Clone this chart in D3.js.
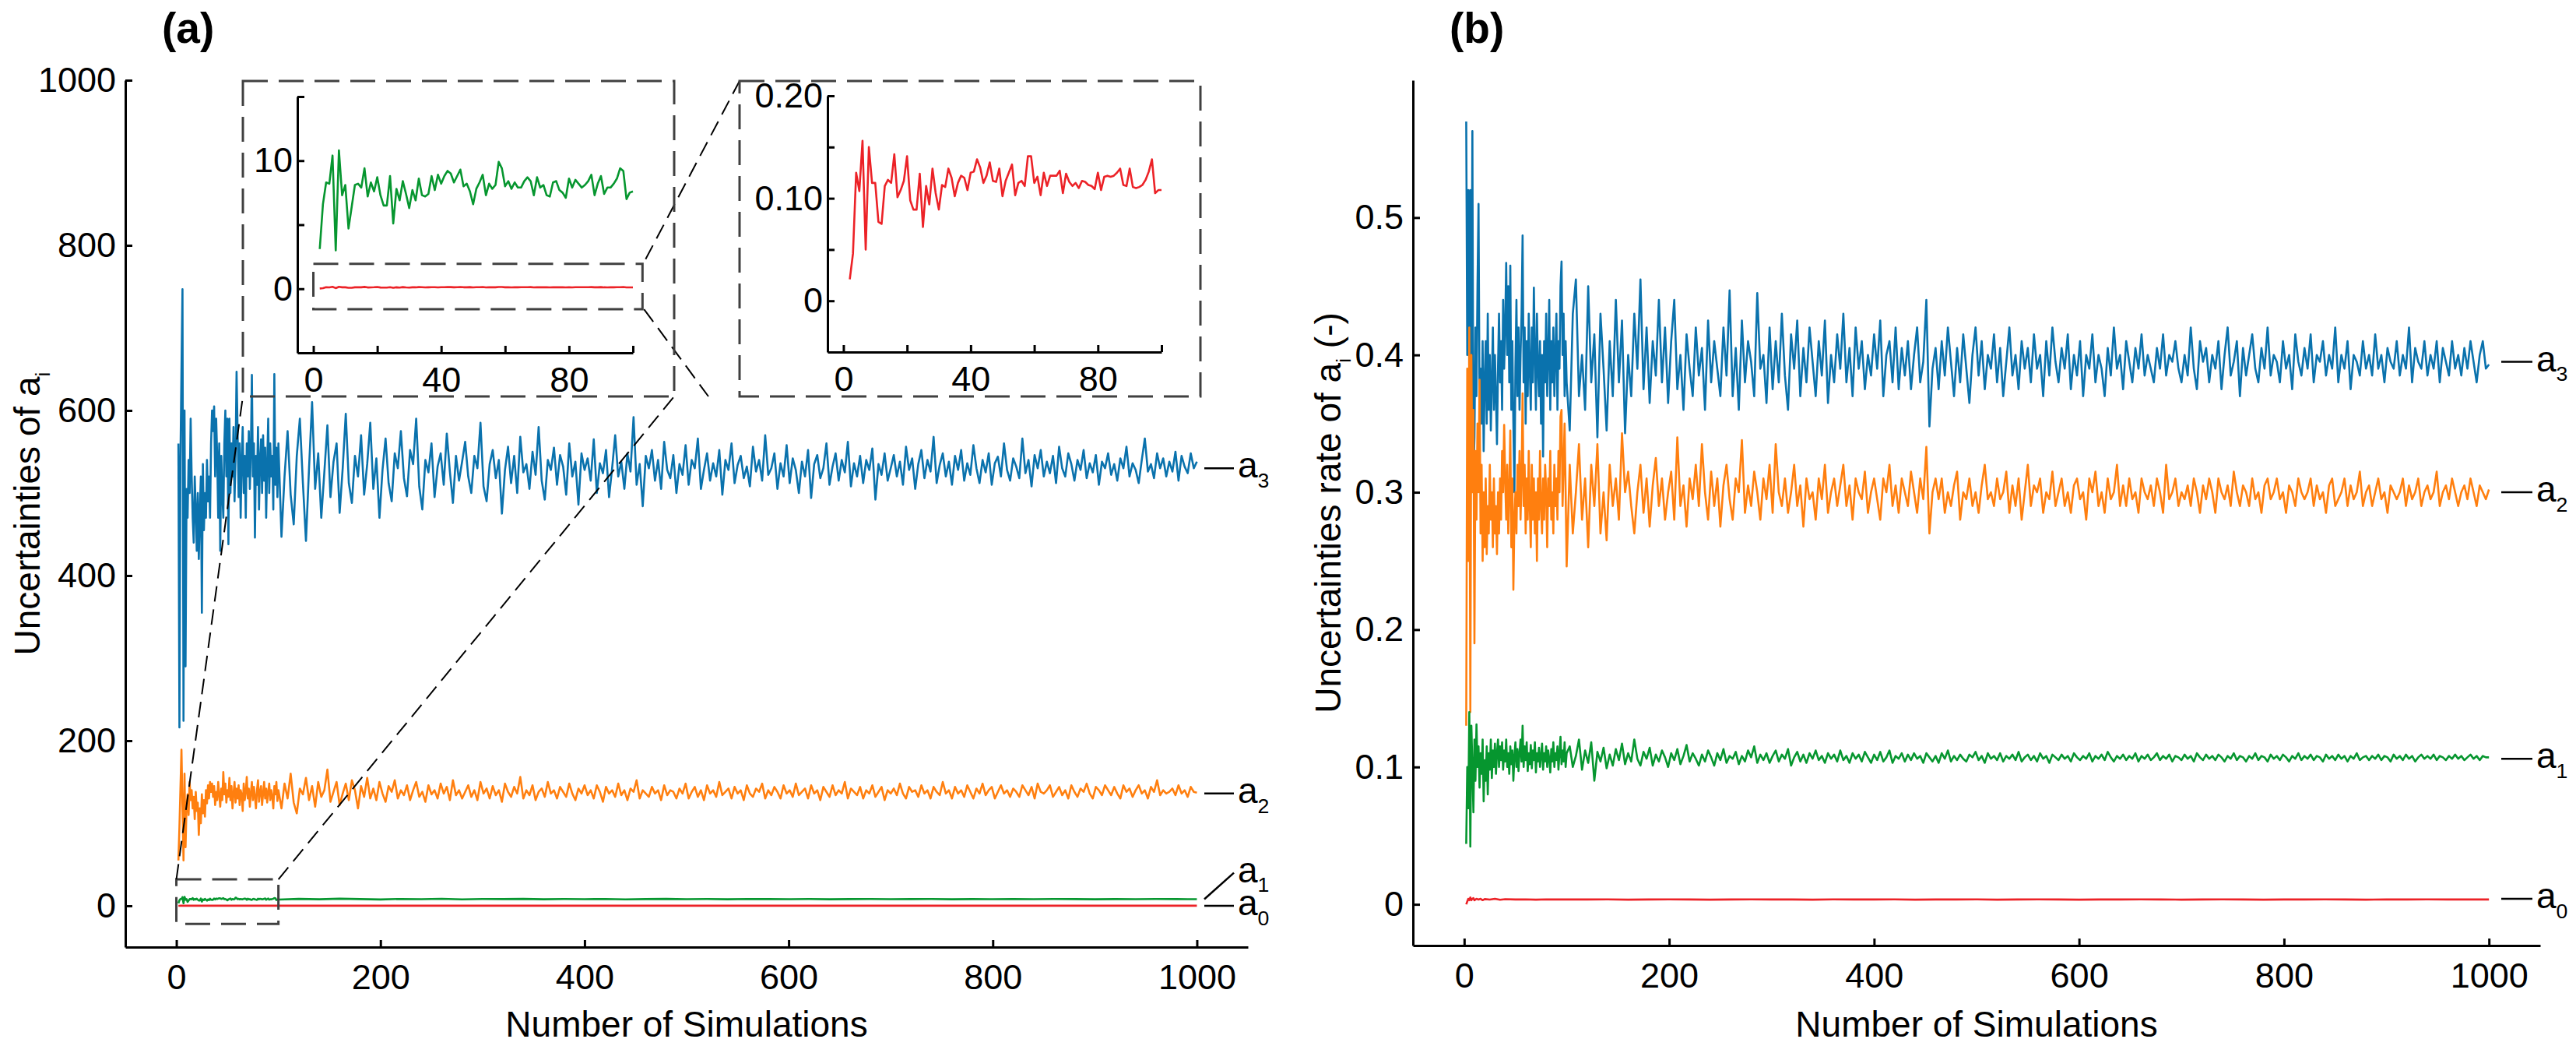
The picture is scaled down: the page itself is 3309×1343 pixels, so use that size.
<!DOCTYPE html>
<html>
<head>
<meta charset="utf-8">
<script src="https://cdn.jsdelivr.net/npm/d3@7"></script>
<style>
  html, body { margin: 0; padding: 0; background: #fff; }
  text { font-family: "Liberation Sans", Arial, Helvetica, sans-serif; }
</style>
</head>
<body>
<svg id="fig" width="3309" height="1343"></svg>
<script>
// ---- simulation indices ----
const earlySims = d3.range(2, 101);          // every run, 2..100
const lateSims = d3.range(103, 1001, 3);     // 103..1000
const coarseSims = d3.range(120, 1001, 20);  // 120..1000
const rateA0Sims = [2,3,4,5,6,7,8,9,10,12,14,16,18,20,25,30,35,40,50,60,70,80,90,100];

const xTicks = [0, 200, 400, 600, 800, 1000];
const uncTicks = [0, 200, 400, 600, 800, 1000];
const rateTicks = [0, 0.1, 0.2, 0.3, 0.4, 0.5];
const zoomXTicks = [0, 20, 40, 60, 80, 100];
const zoomA1Ticks = [0, 5, 10, 15];
const zoomA0Ticks = [0, 0.05, 0.1, 0.15, 0.2];

// ---- (a) uncertainties of a_i ----
const uncA3Early = [
  560,216,540,648,747,224,600,290,505,470,
  540,500,590,520,470,440,520,480,430,500,
  420,480,520,355,535,455,500,470,540,490,
  520,470,560,600,575,605,520,590,545,470,
  560,430,545,500,470,560,600,520,590,438,
  590,500,560,520,580,490,545,647,575,495,
  560,470,540,580,500,545,470,560,520,575,
  505,550,643,520,560,446,545,510,580,480,
  540,565,500,570,515,555,470,535,590,500,
  560,520,545,480,644,510,555,495,560];
const uncA3Late = [
  447,520,575,498,462,545,590,512,442,530,
  610,505,548,470,525,582,495,538,560,476,
  530,596,512,488,545,520,570,498,535,585,
  505,542,470,528,566,512,490,548,530,575,
  518,496,552,535,590,508,480,540,525,560,
  495,532,548,510,572,526,488,545,515,538,
  562,520,500,545,530,585,508,490,535,552,
  518,540,475,528,556,512,545,500,568,525,
  535,505,550,522,580,515,492,540,528,555,
  510,546,532,498,560,520,538,486,548,528,
  542,515,565,500,536,524,552,495,530,570,
  520,538,505,548,526,592,510,535,484,545,
  530,552,515,540,505,562,528,518,546,500,
  535,522,558,510,540,530,566,505,528,548,
  515,536,520,552,498,540,528,560,512,534,
  545,518,532,508,556,526,540,515,570,522,
  530,548,505,536,520,558,512,542,528,500,
  538,520,552,494,535,546,518,530,560,510,
  532,548,515,540,525,562,508,536,520,545,
  512,540,528,554,492,535,522,548,515,530,
  546,520,538,510,556,528,542,505,535,552,
  518,540,526,568,512,534,548,520,538,510,
  545,528,552,515,536,522,558,530,512,540,
  525,548,510,536,544,520,560,528,515,542,
  532,518,566,524,540,508,546,530,552,520,
  538,524,545,512,556,530,520,548,535,515,
  540,528,552,518,536,525,546,510,538,530,
  548,522,535,515,542,530,556,520,536,528,
  512,540,566,526,535,518,548,530,542,520,
  538,526,550,515,545,532,524,548,530,538];

const uncA2Early = [
  55,95,142,189,120,55,160,71,121,135,
  110,150,128,140,118,132,105,138,115,125,
  86,118,100,135,112,128,108,140,124,146,
  130,150,138,148,132,145,122,138,128,150,
  135,120,142,128,162,135,148,125,140,132,
  155,128,145,118,136,150,125,142,130,146,
  122,140,135,115,148,128,138,156,130,142,
  120,137,150,128,144,132,118,140,152,126,
  138,145,122,136,150,130,142,125,138,148,
  128,140,132,118,145,135,150,127,140];
const uncA2Late = [
  118,148,130,160,125,112,142,135,155,128,
  145,120,150,132,140,165,126,138,150,122,
  136,148,128,152,140,118,145,132,155,130,
  142,128,150,136,126,145,138,152,130,140,
  134,146,128,140,150,132,138,126,146,135,
  140,130,148,136,144,128,152,134,140,130,
  138,146,132,140,128,150,136,142,130,145,
  134,140,126,148,138,132,144,136,156,130,
  140,134,146,128,138,142,132,150,136,140,
  130,144,138,132,148,136,128,142,136,146,
  134,140,130,146,138,126,144,136,140,132,
  148,134,140,128,142,138,152,130,140,136,
  132,144,136,140,128,146,134,140,138,130,
  142,136,148,130,138,144,132,140,128,146,
  136,140,132,150,134,138,142,130,144,136,
  140,128,146,136,132,142,138,148,130,140,
  134,144,138,130,146,136,140,132,148,134,
  138,142,130,146,136,140,128,144,138,132,
  146,134,140,136,150,130,142,138,134,144,
  130,140,136,146,132,138,144,128,140,136,
  142,134,148,136,130,144,138,140,132,146,
  136,140,130,144,138,134,150,136,140,130,
  144,136,140,132,146,138,130,142,136,148,
  134,140,144,130,138,146,136,140,132,142,
  138,132,146,140,134,144,130,148,138,136,
  140,146,132,138,144,134,140,130,146,138,
  132,142,138,148,136,130,144,140,134,146,
  140,134,144,136,130,146,138,142,132,140,
  146,136,140,130,144,138,152,134,140,136,
  138,142,134,146,136,140,132,144,138,137];

const uncA1Early = [
  3.1,6.6,8.3,8.2,10.4,3.0,10.8,7.3,8.1,4.7,
  6.4,8.1,8.2,7.9,9.4,7.2,8.3,7.6,8.7,7.3,
  6.5,6.5,8.8,5.1,7.8,6.9,8.4,7.4,6.3,7.7,
  6.9,8.6,7.3,7.2,7.4,8.8,7.7,8.9,8.2,8.8,
  9.2,9.0,8.3,8.8,9.3,8.0,8.2,7.6,6.6,7.8,
  8.3,8.9,7.3,8.2,7.8,8.1,9.9,9.4,8.0,8.4,
  7.8,8.3,7.9,7.9,8.4,8.7,8.4,7.3,8.7,7.9,
  8.1,7.3,7.2,8.3,8.4,7.7,7.5,7.1,8.6,7.9,
  8.5,8.2,7.9,8.1,8.4,8.9,7.3,8.2,8.8,7.4,
  7.9,7.9,8.2,8.6,9.4,9.2,7.0,7.5,7.6];
const uncA1Coarse = [
  8.4,7.9,8.6,8.1,7.7,8.3,8.0,8.5,7.8,8.2,
  8.1,8.4,7.9,8.2,8.0,8.3,7.8,8.1,8.4,8.0,
  8.2,7.9,8.3,8.1,8.0,8.2,7.9,8.1,8.3,8.0,
  8.1,8.2,7.9,8.1,8.0,8.3,8.0,8.2,8.1,7.9,
  8.1,8.0,8.2,8.1,8.0];

const uncA0Early = [
  .021,.046,.125,.107,.156,.050,.150,.115,.115,.077,
  .075,.112,.118,.115,.143,.101,.108,.117,.141,.098,
  .089,.089,.124,.072,.112,.094,.129,.105,.089,.113,
  .111,.129,.120,.102,.115,.122,.120,.108,.125,.126,
  .138,.130,.115,.122,.135,.117,.116,.129,.102,.117,
  .125,.133,.103,.115,.117,.112,.141,.141,.115,.121,
  .103,.125,.112,.122,.122,.122,.127,.105,.124,.116,
  .112,.115,.110,.117,.116,.113,.112,.109,.125,.108,
  .121,.122,.121,.122,.125,.129,.113,.112,.129,.111,
  .110,.111,.113,.118,.126,.138,.105,.108,.108];
const uncA0Coarse = [
  .118,.121,.116,.119,.117,.120,.115,.118,.121,.117,
  .119,.116,.120,.118,.117,.121,.119,.116,.118,.120,
  .117,.119,.118,.121,.116,.118,.120,.117,.119,.118,
  .116,.120,.118,.117,.119,.121,.118,.116,.119,.117,
  .120,.118,.117,.119,.118];

// ---- (b) uncertainty rate of a_i ----
const rateA3Early = [
  .57,.40,.52,.38,.52,.36,.563,.31,.34,.42,
  .37,.45,.51,.36,.39,.35,.41,.33,.38,.41,
  .35,.43,.36,.40,.345,.38,.42,.36,.40,.37,
  .335,.39,.43,.38,.41,.36,.44,.39,.42,.467,
  .40,.45,.38,.465,.36,.41,.35,.30,.39,.44,
  .37,.42,.36,.40,.43,.487,.38,.42,.35,.41,
  .37,.43,.39,.36,.42,.38,.449,.40,.36,.43,
  .39,.37,.41,.35,.40,.326,.41,.38,.43,.37,
  .40,.44,.36,.41,.38,.42,.37,.40,.43,.36,
  .41,.39,.45,.468,.40,.43,.37,.41,.38];
const rateA3Late = [
  .345,.43,.455,.37,.40,.36,.45,.38,.415,.34,
  .43,.39,.345,.41,.37,.44,.38,.425,.343,.40,
  .37,.43,.39,.455,.375,.42,.365,.41,.385,.44,
  .38,.42,.365,.41,.44,.375,.40,.36,.415,.39,
  .37,.42,.385,.405,.36,.425,.38,.41,.39,.37,
  .42,.385,.447,.37,.405,.36,.425,.38,.41,.395,
  .37,.445,.39,.40,.365,.42,.375,.41,.38,.43,
  .385,.36,.415,.39,.425,.37,.405,.38,.42,.395,
  .37,.41,.385,.425,.365,.40,.38,.415,.39,.43,
  .38,.405,.37,.42,.39,.41,.375,.40,.385,.415,
  .39,.425,.37,.40,.41,.38,.42,.375,.405,.385,
  .41,.375,.40,.42,.38,.395,.44,.348,.39,.405,
  .375,.41,.385,.42,.395,.37,.405,.38,.415,.39,
  .365,.40,.42,.385,.41,.375,.40,.39,.415,.38,
  .405,.37,.395,.42,.385,.40,.375,.41,.39,.405,
  .38,.415,.39,.40,.37,.41,.385,.42,.395,.38,
  .405,.39,.415,.375,.40,.385,.41,.37,.40,.39,
  .415,.38,.40,.39,.37,.405,.385,.42,.39,.40,
  .375,.41,.395,.38,.405,.39,.415,.385,.40,.39,
  .38,.405,.39,.415,.385,.40,.395,.41,.39,.38,
  .40,.385,.42,.39,.375,.41,.395,.405,.38,.40,
  .39,.41,.375,.40,.42,.385,.395,.41,.37,.405,
  .385,.40,.415,.39,.38,.405,.39,.42,.385,.40,
  .395,.38,.41,.39,.40,.375,.415,.395,.385,.405,
  .39,.415,.38,.40,.395,.41,.385,.40,.39,.42,
  .38,.40,.39,.41,.375,.40,.395,.385,.41,.39,
  .40,.385,.415,.39,.40,.38,.405,.395,.39,.41,
  .385,.40,.39,.42,.38,.405,.395,.39,.41,.385,
  .40,.39,.41,.38,.405,.395,.385,.41,.39,.40,
  .385,.405,.39,.41,.395,.38,.40,.41,.39,.393];

const rateA2Early = [
  .13,.39,.25,.42,.14,.40,.30,.36,.19,.33,
  .28,.35,.30,.382,.27,.32,.25,.30,.26,.31,
  .255,.29,.27,.32,.28,.30,.26,.31,.27,.29,
  .255,.30,.27,.31,.28,.33,.30,.349,.31,.28,
  .32,.27,.30,.345,.26,.31,.229,.28,.30,.27,
  .32,.29,.33,.28,.31,.372,.29,.32,.27,.31,
  .28,.33,.29,.26,.32,.28,.31,.27,.30,.25,
  .31,.28,.33,.29,.27,.31,.28,.32,.30,.26,
  .31,.29,.33,.28,.30,.27,.32,.29,.31,.28,
  .33,.30,.355,.36,.29,.32,.35,.30,.246];
const rateA2Late = [
  .32,.27,.30,.335,.28,.31,.26,.32,.29,.335,
  .27,.30,.265,.32,.29,.31,.28,.343,.30,.315,
  .29,.27,.30,.32,.285,.31,.275,.305,.325,.29,
  .31,.28,.30,.315,.28,.34,.29,.305,.275,.31,
  .295,.32,.29,.335,.30,.28,.315,.29,.31,.275,
  .305,.32,.295,.28,.31,.30,.338,.285,.305,.29,
  .315,.30,.28,.31,.295,.32,.285,.335,.30,.29,
  .31,.285,.30,.32,.29,.305,.275,.31,.295,.30,
  .28,.31,.295,.32,.285,.30,.31,.29,.305,.32,
  .29,.305,.28,.31,.30,.295,.315,.285,.30,.31,
  .295,.28,.31,.30,.32,.29,.305,.285,.31,.30,
  .29,.315,.30,.285,.31,.295,.333,.27,.30,.31,
  .295,.31,.285,.30,.29,.305,.315,.28,.30,.295,
  .31,.29,.30,.285,.305,.32,.295,.30,.29,.31,
  .295,.30,.315,.285,.305,.29,.31,.28,.30,.32,
  .29,.305,.30,.31,.285,.30,.295,.315,.29,.30,
  .31,.29,.30,.285,.305,.31,.295,.30,.28,.31,
  .30,.315,.29,.30,.285,.31,.295,.30,.32,.29,
  .305,.29,.31,.295,.30,.285,.31,.30,.295,.305,
  .29,.31,.30,.285,.32,.295,.30,.31,.29,.30,
  .295,.305,.29,.31,.30,.285,.305,.295,.31,.30,
  .285,.31,.30,.295,.305,.29,.315,.30,.29,.305,
  .30,.29,.31,.295,.30,.285,.305,.31,.295,.30,
  .31,.295,.30,.285,.305,.30,.29,.31,.30,.295,
  .30,.31,.29,.305,.295,.30,.285,.305,.31,.29,
  .295,.30,.31,.29,.305,.295,.30,.315,.29,.30,
  .305,.29,.30,.31,.295,.30,.285,.305,.30,.295,
  .30,.31,.29,.305,.295,.30,.31,.29,.30,.305,
  .295,.30,.315,.29,.30,.305,.295,.31,.30,.29,
  .30,.305,.295,.31,.30,.29,.305,.30,.295,.302];

const rateA1Early = [
  .044,.10,.07,.14,.042,.13,.10,.067,.12,.09,
  .131,.10,.115,.085,.11,.095,.12,.075,.105,.09,
  .115,.08,.11,.098,.12,.092,.112,.10,.117,.095,
  .11,.12,.10,.115,.105,.118,.098,.112,.104,.12,
  .10,.11,.095,.115,.102,.112,.09,.108,.118,.10,
  .113,.097,.11,.12,.104,.13,.10,.115,.105,.118,
  .097,.11,.102,.116,.099,.112,.105,.118,.096,.11,
  .104,.114,.10,.108,.117,.098,.11,.104,.115,.10,
  .112,.106,.096,.113,.104,.118,.10,.11,.105,.115,
  .098,.11,.122,.102,.112,.104,.118,.10,.11];
const rateA1Late = [
  .115,.10,.108,.12,.098,.112,.103,.118,.09,.111,
  .104,.114,.099,.109,.101,.113,.105,.117,.102,.11,
  .104,.12,.106,.101,.111,.106,.114,.101,.109,.104,
  .112,.107,.10,.11,.105,.113,.102,.108,.116,.104,
  .11,.106,.101,.109,.104,.112,.107,.101,.11,.105,
  .113,.103,.108,.106,.111,.102,.108,.104,.112,.107,
  .115,.103,.109,.105,.11,.103,.108,.112,.104,.109,
  .106,.113,.101,.107,.111,.104,.109,.103,.11,.106,
  .112,.105,.108,.103,.11,.106,.109,.104,.112,.105,
  .108,.103,.11,.106,.109,.104,.111,.107,.103,.109,
  .105,.111,.104,.107,.112,.103,.108,.106,.11,.104,
  .109,.105,.11,.106,.108,.103,.11,.107,.104,.108,
  .103,.11,.106,.112,.104,.108,.105,.109,.106,.104,
  .109,.107,.111,.105,.108,.103,.11,.106,.108,.105,
  .11,.104,.108,.106,.109,.105,.111,.104,.107,.109,
  .105,.108,.104,.11,.106,.108,.103,.109,.107,.105,
  .109,.106,.108,.104,.11,.107,.105,.108,.106,.11,
  .104,.108,.106,.109,.105,.111,.107,.104,.108,.106,
  .109,.105,.108,.106,.11,.104,.108,.106,.109,.105,
  .107,.11,.105,.108,.106,.109,.104,.108,.107,.105,
  .109,.106,.108,.104,.11,.107,.105,.109,.106,.108,
  .105,.109,.107,.104,.108,.106,.11,.105,.108,.107,
  .104,.108,.106,.11,.105,.108,.107,.104,.109,.106,
  .108,.105,.109,.107,.104,.108,.106,.11,.105,.108,
  .106,.109,.105,.108,.107,.104,.109,.106,.108,.105,
  .109,.106,.108,.104,.108,.106,.11,.105,.107,.108,
  .105,.108,.106,.109,.105,.108,.107,.104,.109,.106,
  .108,.105,.109,.106,.108,.104,.107,.109,.106,.108,
  .106,.109,.105,.108,.107,.105,.108,.106,.109,.106,
  .108,.105,.107,.109,.106,.108,.105,.108,.107,.107];

const rateA0Early = [
  .000,.002,.004,.003,.005,.003,.004,.0045,.003,.004,
  .0035,.004,.003,.0038,.0035,.004,.0033,.0037,.0035,.0036,
  .0034,.0036,.0035,.0035];
const rateA0Coarse = [
  .0035,.0036,.0034,.0035,.0036,.0035,.0034,.0035,.0036,.0035,
  .0035,.0034,.0036,.0035,.0035,.0036,.0034,.0035,.0035,.0036,
  .0034,.0035,.0036,.0035,.0034,.0035,.0035,.0036,.0035,.0034,
  .0035,.0036,.0035,.0034,.0035,.0035,.0036,.0035,.0034,.0035,
  .0035,.0036,.0035,.0035,.0035];

const colA3 = '#0a72ad', colA2 = '#ff7f0f', colA1 = '#06962f', colA0 = '#ec2227';

// ---- helpers ----
const pts = (sims, vals) => sims.map((s, i) => ({sim: s, v: vals[i]})).filter(d => d.v !== undefined);
const font = '"Liberation Sans", Arial, Helvetica, sans-serif';
const intFmt = d3.format('d');
const tickFont = 45, labelFont = 46, lineW = 2.6;

const svg = d3.select('#fig');
svg.append('rect').attr('width', 3309).attr('height', 1343).attr('fill', '#fff');

function styleAxis(g, size) {
  g.attr('font-family', null).attr('font-size', null);
  g.select('.domain').attr('stroke', '#000').attr('stroke-width', 3);
  g.selectAll('.tick line').attr('stroke', '#000').attr('stroke-width', 3);
  g.selectAll('.tick text').attr('font-size', size).attr('font-family', font).attr('fill', '#000');
}

function drawLine(parent, data, x, y, color, w) {
  parent.append('path')
    .datum(data)
    .attr('fill', 'none')
    .attr('stroke', color)
    .attr('stroke-width', w)
    .attr('stroke-linejoin', 'round')
    .attr('d', d3.line().x(d => x(d.sim)).y(d => y(d.v)));
}

function subText(parent, x, y, main, sub, size, anchor) {
  const t = parent.append('text').attr('x', x).attr('y', y)
    .attr('font-size', size).attr('font-family', font).attr('fill', '#000')
    .attr('text-anchor', anchor || 'start');
  t.append('tspan').text(main);
  t.append('tspan').attr('dy', size * 0.28).attr('font-size', size * 0.58).text(sub);
  return t;
}

function seriesLabel(x0, x1, yLine, yText, sub) {
  svg.append('line').attr('x1', x0).attr('x2', x1).attr('y1', yLine).attr('y2', yText)
    .attr('stroke', '#000').attr('stroke-width', 2.5);
  subText(svg, x1 + 5, yText + 12, 'a', sub, labelFont);
}

// ================= panel (a) =================
const xA = d3.scaleLinear().domain([-50, 1050]).range([161, 1603]);
const yA = d3.scaleLinear().domain([-50, 1000]).range([1216, 103]);

const gA = svg.append('g');
drawLine(gA, pts(earlySims.concat(lateSims), uncA3Early.concat(uncA3Late)), xA, yA, colA3, lineW);
drawLine(gA, pts(earlySims.concat(lateSims), uncA2Early.concat(uncA2Late)), xA, yA, colA2, lineW);
drawLine(gA, pts(earlySims.concat(coarseSims), uncA0Early.concat(uncA0Coarse)), xA, yA, colA0, lineW);
drawLine(gA, pts(earlySims.concat(coarseSims), uncA1Early.concat(uncA1Coarse)), xA, yA, colA1, lineW);

svg.append('g').attr('transform', `translate(0,${yA(-50)})`)
  .call(d3.axisBottom(xA).tickValues(xTicks).tickFormat(intFmt).tickSize(-9).tickSizeOuter(0).tickPadding(22))
  .call(g => styleAxis(g, tickFont));
svg.append('g').attr('transform', `translate(${xA(-50)},0)`)
  .call(d3.axisLeft(yA).tickValues(uncTicks).tickFormat(intFmt).tickSize(-9).tickSizeOuter(0).tickPadding(12))
  .call(g => styleAxis(g, tickFont));

svg.append('text').attr('x', (xA(-50) + xA(1050)) / 2).attr('y', 1331)
  .attr('text-anchor', 'middle').attr('font-size', labelFont).attr('font-family', font).text('Number of Simulations');
subText(svg, 0, 0, 'Uncertainties of a', 'i', labelFont, 'middle')
  .attr('transform', `translate(51,${(yA(-50) + yA(1000)) / 2}) rotate(-90)`);
svg.append('text').attr('x', xA(-50) + 47).attr('y', 55).attr('font-size', 55)
  .attr('font-weight', 'bold').attr('font-family', font).text('(a)');

// series labels (a)
const labAx0 = 1547, labAx1 = 1585;
seriesLabel(labAx0, labAx1, yA(530), yA(530), '3');
seriesLabel(labAx0, labAx1, yA(136), yA(136), '2');
seriesLabel(labAx0, labAx1, yA(8), yA(40), '1');
seriesLabel(labAx0, labAx1, yA(0), yA(0), '0');

// zoom window on the first 100 runs
const boxA = {x0: 0, x1: 100, y0: -22, y1: 32};
const dashBox = '32,14', dashLink = '20,10', boxCol = '#404040';
svg.append('rect').attr('x', xA(boxA.x0)).attr('y', yA(boxA.y1))
  .attr('width', xA(boxA.x1) - xA(boxA.x0)).attr('height', yA(boxA.y0) - yA(boxA.y1))
  .attr('fill', 'none').attr('stroke', boxCol).attr('stroke-width', 3).attr('stroke-dasharray', dashBox);

// inset 1 : a1 and a0, first 100 runs
const in1 = {left: 312, right: 866, top: 104, bottom: 509};
const xI1 = d3.scaleLinear().domain([-5, 100]).range([382, 813]);
const yI1 = d3.scaleLinear().domain([-5, 15]).range([453, 124]);
// inset 2 : a0, first 100 runs
const in2 = {left: 950, right: 1542, top: 104, bottom: 509};
const xI2 = d3.scaleLinear().domain([-5, 100]).range([1063, 1492]);
const yI2 = d3.scaleLinear().domain([-0.05, 0.2]).range([452, 123]);
const boxI1 = {x0: 0, x1: 103, y0: -1.6, y1: 1.94};

// connecting dashed lines
const links = [
  [xA(boxA.x0), yA(boxA.y1), in1.left, in1.bottom],
  [xA(boxA.x1), yA(boxA.y1), in1.right, in1.bottom],
  [xI1(boxI1.x1) + 4, yI1(boxI1.y1) - 6, in2.left, in2.top],
  [xI1(boxI1.x1) + 2, yI1(boxI1.y0), 910, in2.bottom]
];
links.forEach(l => svg.append('line').attr('x1', l[0]).attr('y1', l[1]).attr('x2', l[2]).attr('y2', l[3])
  .attr('stroke', '#000').attr('stroke-width', 2).attr('stroke-dasharray', dashLink));

[in1, in2].forEach(b => svg.append('rect').attr('x', b.left).attr('y', b.top)
  .attr('width', b.right - b.left).attr('height', b.bottom - b.top)
  .attr('fill', 'none').attr('stroke', boxCol).attr('stroke-width', 3).attr('stroke-dasharray', dashBox));

drawLine(svg, pts(earlySims, uncA1Early), xI1, yI1, colA1, 2.6);
drawLine(svg, pts(earlySims, uncA0Early), xI1, yI1, colA0, 2.6);
svg.append('rect').attr('x', xI1(boxI1.x0)).attr('y', yI1(boxI1.y1))
  .attr('width', xI1(boxI1.x1) - xI1(boxI1.x0)).attr('height', yI1(boxI1.y0) - yI1(boxI1.y1))
  .attr('fill', 'none').attr('stroke', boxCol).attr('stroke-width', 3).attr('stroke-dasharray', dashBox);

svg.append('g').attr('transform', `translate(0,${yI1(-5)})`)
  .call(d3.axisBottom(xI1).tickValues(zoomXTicks).tickSize(-9).tickSizeOuter(0).tickPadding(18)
    .tickFormat(d => d % 40 === 0 ? d : ''))
  .call(g => styleAxis(g, tickFont));
svg.append('g').attr('transform', `translate(${xI1(-5)},0)`)
  .call(d3.axisLeft(yI1).tickValues(zoomA1Ticks).tickSize(-9).tickSizeOuter(0).tickPadding(6)
    .tickFormat(d => d % 10 === 0 ? d : ''))
  .call(g => styleAxis(g, tickFont));

drawLine(svg, pts(earlySims, uncA0Early), xI2, yI2, colA0, 2.6);
svg.append('g').attr('transform', `translate(0,${yI2(-0.05)})`)
  .call(d3.axisBottom(xI2).tickValues(zoomXTicks).tickSize(-9).tickSizeOuter(0).tickPadding(18)
    .tickFormat(d => d % 40 === 0 ? d : ''))
  .call(g => styleAxis(g, tickFont));
svg.append('g').attr('transform', `translate(${xI2(-5)},0)`)
  .call(d3.axisLeft(yI2).tickValues(zoomA0Ticks).tickSize(-9).tickSizeOuter(0).tickPadding(6)
    .tickFormat(d => d === 0 ? '0' : (Math.round(d * 100) % 10 === 0 ? d.toFixed(2) : '')))
  .call(g => styleAxis(g, tickFont));

// ================= panel (b) =================
const xB = d3.scaleLinear().domain([-50, 1050]).range([1815, 3263]);
const yB = d3.scaleLinear().domain([-0.03, 0.6]).range([1214, 103]);

const gB = svg.append('g');
drawLine(gB, pts(earlySims.concat(lateSims), rateA3Early.concat(rateA3Late)), xB, yB, colA3, lineW);
drawLine(gB, pts(earlySims.concat(lateSims), rateA2Early.concat(rateA2Late)), xB, yB, colA2, lineW);
drawLine(gB, pts(earlySims.concat(lateSims), rateA1Early.concat(rateA1Late)), xB, yB, colA1, lineW);
drawLine(gB, pts(rateA0Sims.concat(coarseSims), rateA0Early.concat(rateA0Coarse)), xB, yB, colA0, lineW);

svg.append('g').attr('transform', `translate(0,${yB(-0.03)})`)
  .call(d3.axisBottom(xB).tickValues(xTicks).tickFormat(intFmt).tickSize(-9).tickSizeOuter(0).tickPadding(22))
  .call(g => styleAxis(g, tickFont));
svg.append('g').attr('transform', `translate(${xB(-50)},0)`)
  .call(d3.axisLeft(yB).tickValues(rateTicks).tickSize(-9).tickSizeOuter(0).tickPadding(12)
    .tickFormat(d => d === 0 ? '0' : d.toFixed(1)))
  .call(g => styleAxis(g, tickFont));

svg.append('text').attr('x', (xB(-50) + xB(1050)) / 2).attr('y', 1331)
  .attr('text-anchor', 'middle').attr('font-size', labelFont).attr('font-family', font).text('Number of Simulations');
const yLabB = subText(svg, 0, 0, 'Uncertainties rate of a', 'i', labelFont, 'middle')
  .attr('transform', `translate(1722,${(yB(-0.03) + yB(0.6)) / 2}) rotate(-90)`);
yLabB.append('tspan').attr('dy', -labelFont * 0.28).attr('font-size', labelFont).text(' (-)');
svg.append('text').attr('x', xB(-50) + 47).attr('y', 55).attr('font-size', 55)
  .attr('font-weight', 'bold').attr('font-family', font).text('(b)');

const labBx0 = 3213, labBx1 = 3253;
seriesLabel(labBx0, labBx1, yB(0.395), yB(0.395), '3');
seriesLabel(labBx0, labBx1, yB(0.30), yB(0.30), '2');
seriesLabel(labBx0, labBx1, yB(0.106), yB(0.106), '1');
seriesLabel(labBx0, labBx1, yB(0.004), yB(0.004), '0');
</script>
</body>
</html>
